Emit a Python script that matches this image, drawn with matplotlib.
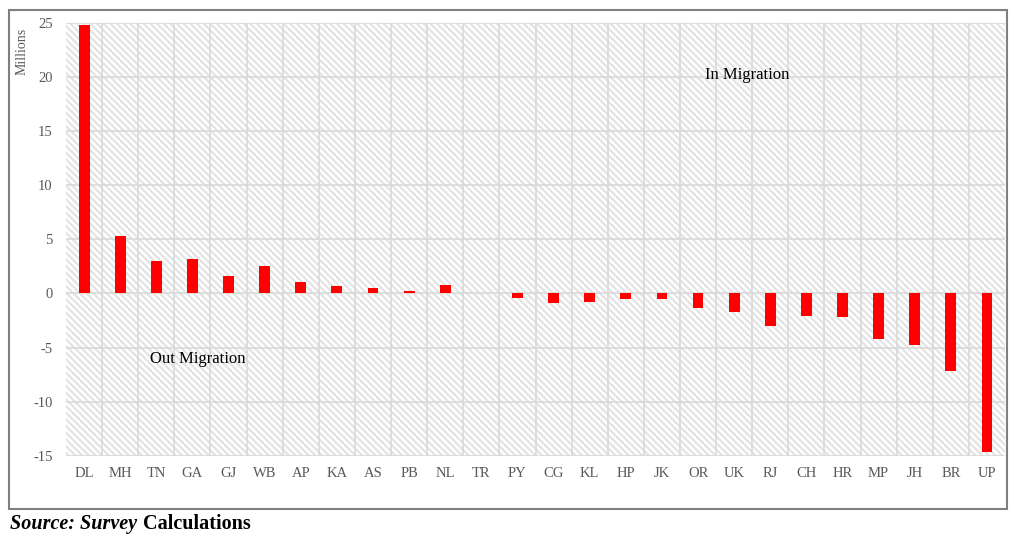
import matplotlib as mpl
mpl.use('Agg')
import matplotlib.pyplot as plt
from matplotlib.patches import Rectangle
import numpy as np

states = ["DL", "MH", "TN", "GA", "GJ", "WB", "AP", "KA", "AS", "PB", "NL", "TR", "PY",
          "CG", "KL", "HP", "JK", "OR", "UK", "RJ", "CH", "HR", "MP", "JH", "BR", "UP"]
net_migration = [24.8, 5.3, 3.0, 3.2, 1.6, 2.5, 1.1, 0.65, 0.5, 0.25, 0.75, 0.0, -0.4,
                 -0.85, -0.75, -0.55, -0.5, -1.3, -1.7, -3.0, -2.1, -2.2, -4.2, -4.8, -7.2, -14.6]
yticks = [-15, -10, -5, 0, 5, 10, 15, 20, 25]

plt.rcParams['font.family'] = ['Liberation Serif', 'DejaVu Serif']
plt.rcParams['hatch.linewidth'] = 1.6
grey = '#595959'

fig = plt.figure(figsize=(10.19, 5.44), dpi=100)
ax = fig.add_axes([0.0648, 0.162, 0.9215, 0.796])

x = np.arange(len(states))

# hatched background
bg = Rectangle((0, 0), 1, 1, transform=ax.transAxes, facecolor='white',
               edgecolor='#e3e3e3', hatch='\\\\\\\\\\', linewidth=0, zorder=0)
ax.add_patch(bg)

ax.bar(x, net_migration, width=0.3, color='#ff0000', zorder=3)

ax.set_xlim(-0.5, len(states) - 0.5)
ax.set_ylim(-15, 25)
ax.set_yticks(yticks)
ax.set_yticklabels([str(v) for v in yticks])
ax.set_xticks(x)
ax.set_xticklabels(states)

# grid: horizontal at ticks, vertical between categories
for v in yticks:
    ax.axhline(v, color='#d9d9d9', linewidth=1.2, zorder=1)
for b in np.arange(0.5, len(states) - 0.5, 1):
    ax.axvline(b, color='#d9d9d9', linewidth=1.2, zorder=1)

ax.tick_params(axis='both', length=0, labelsize=10.5, colors=grey)
ax.tick_params(axis='x', pad=8)
ax.tick_params(axis='y', pad=9.5)
for s in ax.spines.values():
    s.set_visible(False)

ax.text(18.36, 20.2, "In Migration", ha='center', va='center', fontsize=12, color='black', zorder=4)
ax.text(3.16, -6.05, "Out Migration", ha='center', va='center', fontsize=12, color='black', zorder=4)

fig.text(0.0216, 0.906, "Millions", rotation=90, ha='center', va='center', fontsize=10, color=grey)

# outer frame
frame = Rectangle((9 / 1019, 1 - 509 / 544), 998 / 1019, 499 / 544, transform=fig.transFigure,
                  fill=False, edgecolor='#7f7f7f', linewidth=1.5)
fig.patches.append(frame)

src = fig.text(0.01, 0.036, "Source: Survey", fontsize=14.5, fontweight='bold', fontstyle='italic',
               ha='left', va='center')
renderer = fig.canvas.get_renderer()
bb = src.get_window_extent(renderer)
fig.text((bb.x1 + 6) / fig.bbox.width, 0.036, "Calculations", fontsize=14.5, fontweight='bold',
         ha='left', va='center')

fig.savefig('out.png', dpi=100)
